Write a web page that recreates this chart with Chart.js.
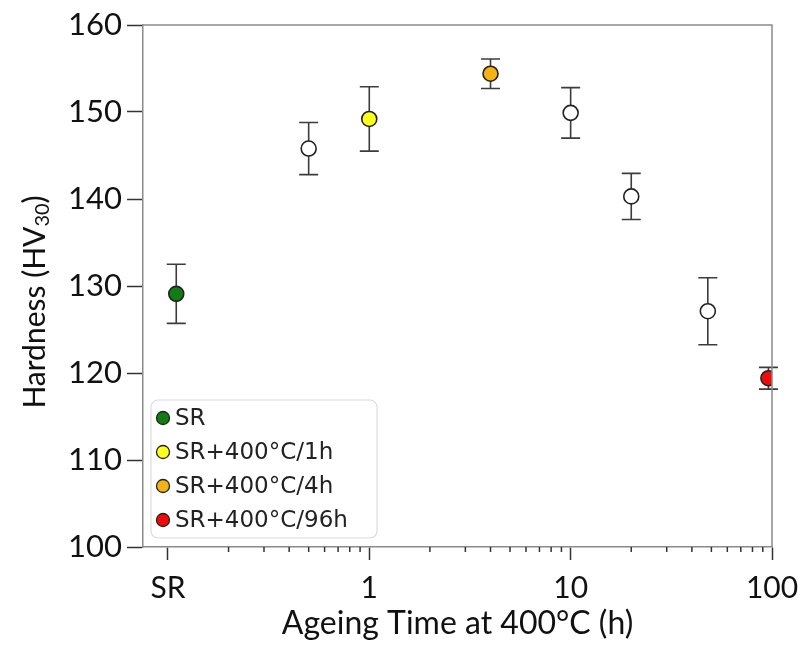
<!DOCTYPE html>
<html>
<head>
<meta charset="utf-8">
<script src="https://cdn.jsdelivr.net/npm/chart.js@4"></script>
<style>
  html, body { margin: 0; padding: 0; background: #fff; }
  #wrap { width: 798px; height: 646px; }
</style>
</head>
<body>
<div id="wrap"><canvas id="chart" width="798" height="646"></canvas></div>
<script>
// Ageing time (h) -- SR plotted at ~0.11 on the log axis
const ageingTime = [0.11, 0.5, 1, 4, 10, 20, 48, 96];
const hardness   = [129.1, 145.8, 149.2, 154.4, 149.9, 140.3, 127.1, 119.4];
const hardnessErr = [3.4, 3.0, 3.7, 1.7, 2.9, 2.65, 3.85, 1.25];

// which points are highlighted in the legend (index into arrays above)
const legendLabels = ['SR', 'SR+400°C/1h', 'SR+400°C/4h', 'SR+400°C/96h'];
const legendIndex  = [0, 2, 3, 7];
const legendColors = ['#0f7d12', '#ffff1e', '#f5b214', '#f00a0a'];

const xTickValues = [0.1, 1, 10, 100];
const xTickLabels = ['SR', '1', '10', '100'];
const xMinorTicks = [0.2, 0.3, 0.4, 0.5, 0.6, 0.7, 0.8, 0.9,
                     2, 3, 4, 5, 6, 7, 8, 9,
                     20, 30, 40, 50, 60, 70, 80, 90];

const AXIS_FONT = 'Lato';
const EDGE = '#8a8a8a';
const TICK = '#333';
const MARK_EDGE = '#222';

// build datasets: one per coloured sample + one for the open symbols
const datasets = legendLabels.map((label, k) => {
  const i = legendIndex[k];
  return {
    label: label,
    data: [{ x: ageingTime[i], y: hardness[i], err: hardnessErr[i] }],
    backgroundColor: legendColors[k],
    borderColor: MARK_EDGE,
  };
});
const openPts = [];
ageingTime.forEach((t, i) => {
  if (!legendIndex.includes(i)) openPts.push({ x: t, y: hardness[i], err: hardnessErr[i] });
});
datasets.push({ label: 'open', data: openPts, backgroundColor: '#fff', borderColor: MARK_EDGE });

datasets.forEach(ds => {
  ds.pointRadius = 7.5;
  ds.pointHoverRadius = 7.5;
  ds.pointBorderWidth = 1.6;
  ds.showLine = false;
});

// error bars, drawn under the markers
const errorBars = {
  id: 'errorBars',
  beforeDatasetsDraw(chart) {
    const { ctx, scales: { x, y } } = chart;
    ctx.save();
    ctx.strokeStyle = '#3c3c3c';
    ctx.lineWidth = 1.6;
    chart.data.datasets.forEach(ds => {
      ds.data.forEach(p => {
        const px = x.getPixelForValue(p.x);
        const top = y.getPixelForValue(p.y + p.err);
        const bot = y.getPixelForValue(p.y - p.err);
        ctx.beginPath();
        ctx.moveTo(px, top); ctx.lineTo(px, bot);
        ctx.moveTo(px - 9.5, top); ctx.lineTo(px + 9.5, top);
        ctx.moveTo(px - 9.5, bot); ctx.lineTo(px + 9.5, bot);
        ctx.stroke();
      });
    });
    ctx.restore();
  }
};

// frame (top/right), minor x ticks, y title with subscript, legend box
const extras = {
  id: 'extras',
  afterDraw(chart) {
    const { ctx, chartArea: a, scales: { x } } = chart;
    ctx.save();
    ctx.strokeStyle = EDGE;
    ctx.lineWidth = 1.5;
    ctx.beginPath();
    ctx.moveTo(a.left, a.top); ctx.lineTo(a.right, a.top); ctx.lineTo(a.right, a.bottom);
    ctx.stroke();

    ctx.strokeStyle = TICK;
    ctx.beginPath();
    xMinorTicks.forEach(v => {
      const px = x.getPixelForValue(v);
      ctx.moveTo(px, a.bottom); ctx.lineTo(px, a.bottom + 5);
    });
    ctx.stroke();

    // y-axis title
    ctx.save();
    ctx.translate(35, 302);
    ctx.rotate(-Math.PI / 2);
    ctx.fillStyle = '#111';
    ctx.textBaseline = 'middle';
    const big = '30px ' + AXIS_FONT, small = '20px ' + AXIS_FONT;
    ctx.font = big;
    const w1 = ctx.measureText('Hardness (HV').width;
    const w3 = ctx.measureText(')').width;
    ctx.font = small;
    const w2 = ctx.measureText('30').width;
    let cx = -(w1 + w2 + w3) / 2;
    ctx.font = big; ctx.fillText('Hardness (HV', cx, 0); cx += w1;
    ctx.font = small; ctx.fillText('30', cx, 8); cx += w2;
    ctx.font = big; ctx.fillText(')', cx, 0);
    ctx.restore();

    // legend
    const lx = a.left + 8, ly = a.bottom - 147, lw = 226, lh = 138;
    ctx.fillStyle = '#fff';
    ctx.strokeStyle = '#dcdcdc';
    ctx.lineWidth = 1.2;
    ctx.beginPath();
    ctx.roundRect(lx, ly, lw, lh, 7);
    ctx.fill(); ctx.stroke();
    ctx.font = '23px "DejaVu Sans"';
    ctx.textBaseline = 'middle';
    legendLabels.forEach((label, k) => {
      const ry = ly + 18 + k * 34;
      ctx.beginPath();
      ctx.arc(lx + 12, ry, 6.5, 0, Math.PI * 2);
      ctx.fillStyle = legendColors[k];
      ctx.fill();
      ctx.strokeStyle = MARK_EDGE;
      ctx.lineWidth = 1.3;
      ctx.stroke();
      ctx.fillStyle = '#222';
      ctx.fillText(label, lx + 24, ry + 1);
    });
    ctx.restore();
  }
};

new Chart(document.getElementById('chart'), {
  type: 'scatter',
  data: { datasets },
  options: {
    responsive: false,
    animation: false,
    layout: { padding: { left: 0, top: 25, right: 26, bottom: 0 } },
    plugins: {
      legend: { display: false },
      tooltip: { enabled: false },
    },
    scales: {
      x: {
        type: 'logarithmic',
        min: 0.0752,
        max: 100,
        bounds: 'data',
        afterBuildTicks: (scale) => { scale.ticks = xTickValues.map(v => ({ value: v, major: true })); },
        afterFit: (scale) => { scale.height = 99; scale.paddingRight = 0; },
        ticks: {
          autoSkip: false,
          maxRotation: 0,
          padding: 10,
          color: '#111',
          font: { family: AXIS_FONT, size: 30 },
          callback: (v, i) => xTickLabels[i],
        },
        grid: { drawOnChartArea: false, tickLength: 13, tickColor: TICK, tickWidth: 1.5 },
        border: { color: EDGE, width: 1.5 },
        title: {
          display: true,
          text: 'Ageing Time at 400°C (h)',
          color: '#111',
          font: { family: AXIS_FONT, size: 32 },
          padding: { top: 0, bottom: 3 },
        },
      },
      y: {
        min: 100,
        max: 160,
        ticks: {
          stepSize: 10,
          padding: 5,
          color: '#111',
          font: { family: AXIS_FONT, size: 31 },
        },
        afterFit: (scale) => { scale.width = 143; },
        grid: { drawOnChartArea: false, tickLength: 16, tickColor: TICK, tickWidth: 1.5 },
        border: { color: EDGE, width: 1.5 },
      },
    },
  },
  plugins: [errorBars, extras],
});
</script>
</body>
</html>
